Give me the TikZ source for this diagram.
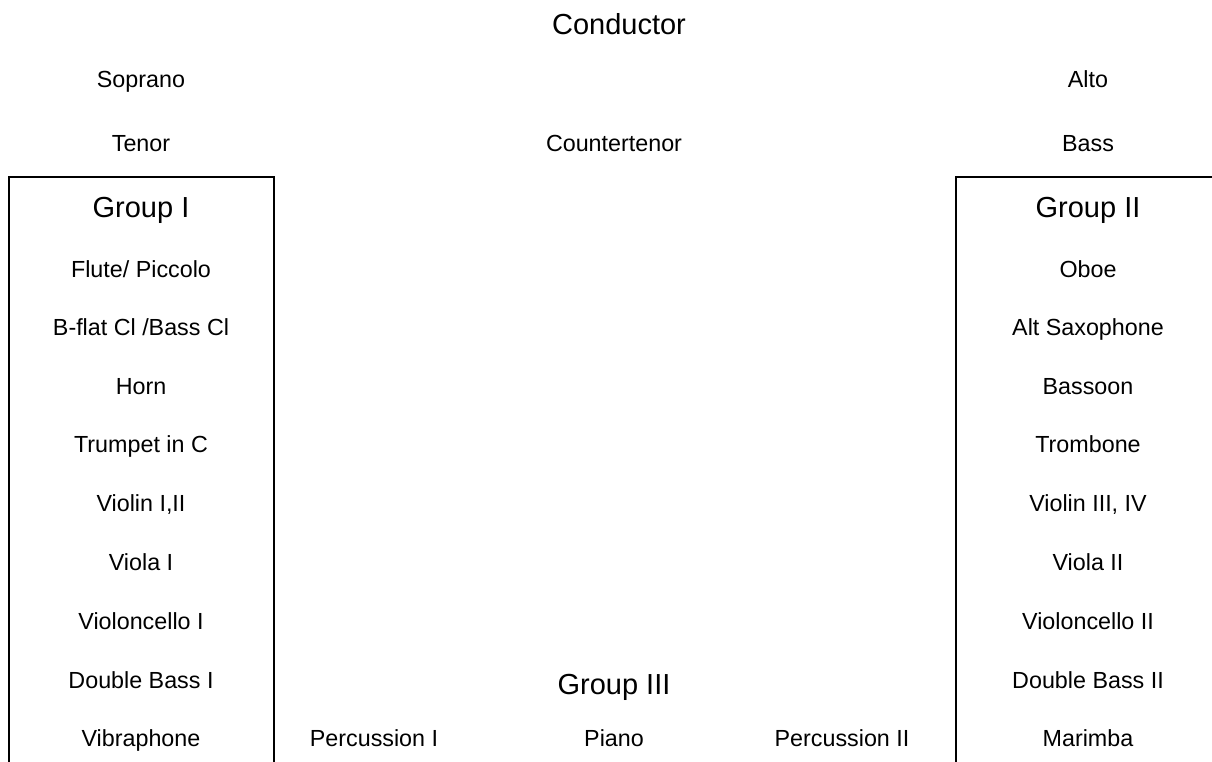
\documentclass[tikz,border=0pt]{standalone}
\usepackage{fontspec}
\setmainfont{Liberation Sans}
\usepackage{tikz}
\tikzstyle{part}=[inner sep=0pt,font=\fontsize{23.3}{28}\selectfont,
  text height=16.7pt,text depth=0pt]
\tikzstyle{head}=[inner sep=0pt,font=\fontsize{29}{35}\selectfont,
  text height=20.8pt,text depth=0pt]
\tikzstyle{wall}=[draw=black,line width=2pt]

\begin{document}
\begin{tikzpicture}[x=1pt,y=-1pt]
    \useasboundingbox (0,0) rectangle (1212,762);
    \node [style=head] (c) at (619, 24) {Conductor};
    \node [style=part] (s) at (141, 79) {Soprano};
    \node [style=part] (a) at (1088, 79) {Alto};
    \node [style=part] (t) at (141, 143) {Tenor};
    \node [style=part] (ct) at (614, 143) {Countertenor};
    \node [style=part] (b) at (1088, 143) {Bass};
    % group I
    \draw [style=wall] (9, 762) -- (9, 177) -- (274, 177) -- (274, 762);
    \node [style=head] (g1) at (141, 207) {Group I};
    \node [style=part] (1) at (141, 269) {Flute/ Piccolo};
    \node [style=part] (2) at (141, 327) {B-flat Cl /Bass Cl};
    \node [style=part] (3) at (141, 386) {Horn};
    \node [style=part] (4) at (141, 444) {Trumpet in C};
    \node [style=part] (5) at (141, 503) {Violin I,II};
    \node [style=part] (6) at (141, 562) {Viola I};
    \node [style=part] (7) at (141, 621) {Violoncello I};
    \node [style=part] (8) at (141, 680) {Double Bass I};
    \node [style=part] (9) at (141, 738) {Vibraphone};
    % group II
    \draw [style=wall] (1213, 177) -- (956, 177) -- (956, 762);
    \node [style=head] (g2) at (1088, 207) {Group II};
    \node [style=part] (10) at (1088, 269) {Oboe};
    \node [style=part] (11) at (1088, 327) {Alt Saxophone};
    \node [style=part] (12) at (1088, 386) {Bassoon};
    \node [style=part] (13) at (1088, 444) {Trombone};
    \node [style=part] (14) at (1088, 503) {Violin III, IV};
    \node [style=part] (15) at (1088, 562) {Viola II};
    \node [style=part] (16) at (1088, 621) {Violoncello II};
    \node [style=part] (17) at (1088, 680) {Double Bass II};
    \node [style=part] (18) at (1088, 738) {Marimba};
    % group III
    \node [style=head] (g3) at (614, 684) {Group III};
    \node [style=part] (19) at (374, 738) {Percussion I};
    \node [style=part] (20) at (614, 738) {Piano};
    \node [style=part] (21) at (842, 738) {Percussion II};
\end{tikzpicture}
\end{document}
